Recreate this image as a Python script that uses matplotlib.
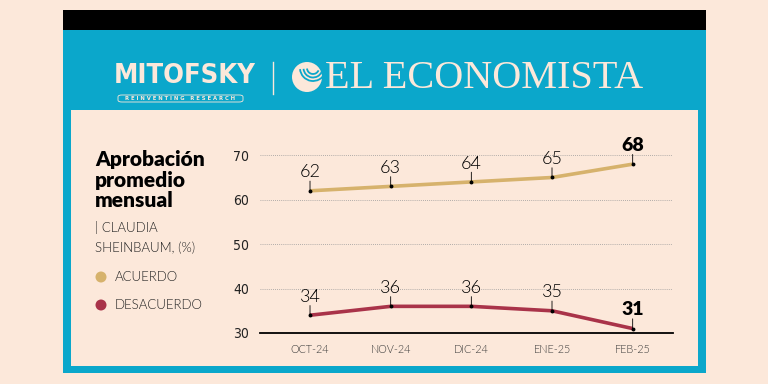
import matplotlib
matplotlib.use('Agg')
import matplotlib.pyplot as plt
from matplotlib.patches import Rectangle, Ellipse, FancyBboxPatch, Arc
import numpy as np

MONTHS = ['OCT-24', 'NOV-24', 'DIC-24', 'ENE-25', 'FEB-25']
ACUERDO = [62, 63, 64, 65, 68]
DESACUERDO = [34, 36, 36, 35, 31]
Y_TICKS = [30, 40, 50, 60, 70]

PEACH = '#FCE8DA'
BLUE = '#0BA7CB'
GOLD = '#D6B26C'
RED = '#A93349'
W, H = 768, 384


def px(x, y):
    return x / W, 1 - y / H


def dot(fig, x, y, r, color):
    fig.patches.append(Ellipse(px(x, y), 2 * r / W, 2 * r / H, transform=fig.transFigure,
                               facecolor=color, edgecolor='none'))


def main():
    fig = plt.figure(figsize=(7.68, 3.84), dpi=100, facecolor=PEACH)

    # marco
    for (x0, y0, x1, y1, c) in [(63, 10, 706, 373, BLUE), (63, 10, 706, 30, 'black'),
                                (71, 110, 698, 366, PEACH)]:
        fig.patches.append(Rectangle((x0 / W, 1 - y1 / H), (x1 - x0) / W, (y1 - y0) / H,
                                     transform=fig.transFigure, facecolor=c, edgecolor='none'))

    # cabecera
    fig.text(*px(185, 76), 'MITOFSKY', color=PEACH, fontsize=19.5, fontweight='bold',
             family='DejaVu Sans', fontstretch='condensed', ha='center', va='center')
    fig.patches.append(FancyBboxPatch((118 / W, 1 - 102 / H), 125 / W, 7 / H,
                                      boxstyle='round,pad=0,rounding_size=0.005',
                                      transform=fig.transFigure, facecolor='none',
                                      edgecolor=PEACH, linewidth=0.6))
    fig.text(*px(180.5, 98.7), 'R E I N V E N T I N G   R E S E A R C H', color=PEACH,
             fontsize=4.2, fontweight='bold', family='DejaVu Sans',
             fontstretch='condensed', ha='center', va='center')
    fig.lines.append(plt.Line2D([273 / W, 273 / W], [1 - 62 / H, 1 - 94 / H],
                                transform=fig.transFigure, color=PEACH, linewidth=1))
    dot(fig, 307, 77, 15, PEACH)
    for r in [6, 9.5, 13]:
        fig.patches.append(Arc(px(313, 68), 2 * r / W, 2 * r / H, theta1=190, theta2=320,
                               transform=fig.transFigure, color=BLUE, linewidth=1.3))
    fig.text(*px(484, 78), 'EL ECONOMISTA', color=PEACH, fontsize=29,
             family='Liberation Serif', ha='center', va='center')

    # titulo y leyenda
    fig.text(*px(95, 180), 'Aprobación\npromedio\nmensual', color='black', fontsize=15,
             fontweight='heavy', family='Lato', ha='left', va='center', linespacing=1.12)
    fig.text(*px(95, 238), '| CLAUDIA\nSHEINBAUM, (%)', color='#222222', fontsize=9.5,
             family='Lato', fontweight=300, ha='left', va='center', linespacing=1.75)
    for yy, c, lab in [(277, GOLD, 'ACUERDO'), (305, RED, 'DESACUERDO')]:
        dot(fig, 101, yy, 5.5, c)
        fig.text(*px(115, yy), lab, color='#222222', fontsize=9.5, family='Lato',
                 fontweight=300, ha='left', va='center')

    # grafica
    ax = fig.add_axes([260 / W, 1 - 333 / H, 413 / W, 195.5 / H])
    ax.set_zorder(5)
    ax.set_facecolor('none')
    x = np.arange(len(MONTHS))
    for vals, c in [(ACUERDO, GOLD), (DESACUERDO, RED)]:
        ax.plot(x, vals, color=c, linewidth=2.6, solid_capstyle='butt', zorder=3)
        ax.plot(x, vals, 'o', color='black', markersize=1.8, zorder=4)
        for i, v in enumerate(vals):
            last = i == len(vals) - 1
            ax.annotate('', xy=(i, v), xytext=(0, 7), textcoords='offset points',
                        arrowprops=dict(arrowstyle='-', color='black', lw=0.6,
                                        shrinkA=0, shrinkB=0))
            ax.annotate(str(v), xy=(i, v), xytext=(0, 7.5), textcoords='offset points',
                        ha='center', va='bottom', color='black',
                        fontsize=14 if last else 13,
                        fontweight='heavy' if last else 300, family='Lato')

    ax.set_xlim(-0.62, 4.5)
    ax.set_ylim(30, 74)
    ax.set_yticks(Y_TICKS)
    ax.set_xticks(x)
    ax.set_xticklabels(MONTHS)
    ax.tick_params(axis='x', length=0, pad=8, labelsize=7.8, labelcolor='#3a3a3a')
    ax.tick_params(axis='y', length=0, pad=8, labelsize=10, labelcolor='#222222')
    for lab in ax.get_xticklabels():
        lab.set_family('Lato')
        lab.set_fontweight(300)
    for lab in ax.get_yticklabels():
        lab.set_family('DejaVu Sans')
        lab.set_fontstretch('condensed')
    for s in ['top', 'right', 'left']:
        ax.spines[s].set_visible(False)
    ax.spines['bottom'].set_linewidth(1.3)
    for yv in Y_TICKS[1:]:
        ax.axhline(yv, color='#999999', linewidth=0.6, linestyle=(0, (1, 1.5)), zorder=1)

    fig.savefig('out.png', dpi=100, facecolor=PEACH)


if __name__ == '__main__':
    main()
